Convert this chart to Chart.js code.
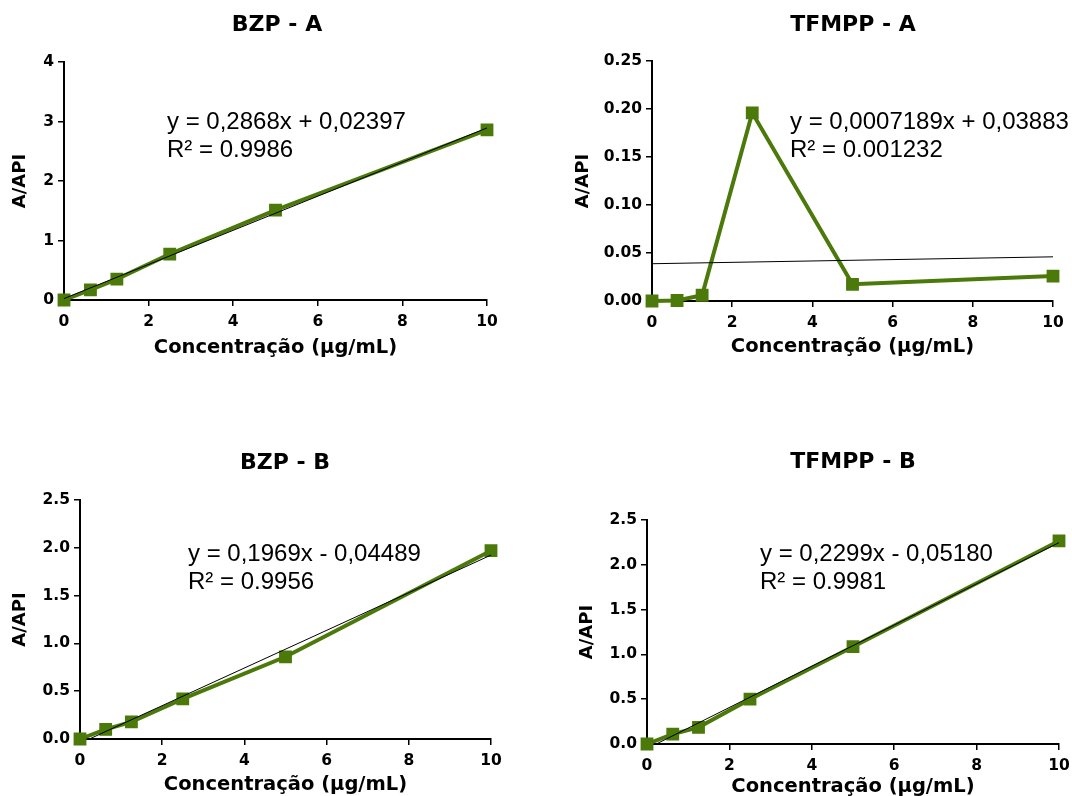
<!DOCTYPE html>
<html>
<head>
<meta charset="utf-8">
<script src="https://cdn.jsdelivr.net/npm/chart.js@4.4.1/dist/chart.umd.min.js"></script>
<style>
  body { margin: 0; background: #fff; width: 1072px; height: 796px; overflow: hidden; position: relative; }
  canvas { position: absolute; }
</style>
</head>
<body>
<canvas id="c0" width="536" height="370" style="left:0;top:0"></canvas>
<canvas id="c1" width="536" height="370" style="left:536px;top:0"></canvas>
<canvas id="c2" width="536" height="400" style="left:0;top:400px"></canvas>
<canvas id="c3" width="536" height="400" style="left:536px;top:400px"></canvas>
<script>
// concentrations (µg/mL), same for every panel
const concentrations = [0, 0.625, 1.25, 2.5, 5, 10];

// A/API
const bzpA   = [0, 0.17, 0.35, 0.77, 1.51, 2.86];
const tfmppA = [0, 0.0005, 0.006, 0.196, 0.0174, 0.026];
const bzpB   = [0, 0.10, 0.18, 0.42, 0.86, 1.97];
const tfmppB = [0, 0.11, 0.186, 0.50, 1.086, 2.266];

const panelTitles = ['BZP - A', 'TFMPP - A', 'BZP - B', 'TFMPP - B'];
const panelValues = [bzpA, tfmppA, bzpB, tfmppB];

// linear fit shown on each panel
const fitSlopes     = [0.2868, 0.0007189, 0.1969, 0.2299];
const fitIntercepts = [0.02397, 0.03883, -0.04489, -0.05180];
const fitEquations  = ['y = 0,2868x + 0,02397', 'y = 0,0007189x + 0,03883', 'y = 0,1969x - 0,04489', 'y = 0,2299x - 0,05180'];
const fitR2         = ['R² = 0.9986', 'R² = 0.001232', 'R² = 0.9956', 'R² = 0.9981'];

// y axis ranges
const yMax   = [4, 0.25, 2.5, 2.5];
const yStep  = [1, 0.05, 0.5, 0.5];
const yDecim = [0, 2, 1, 1];

const xAxisTitle = 'Concentração (µg/mL)';
const yAxisTitle = 'A/API';

const green = '#4b790a';
const boldFont = '"DejaVu Sans", sans-serif';

// placement of each panel inside its canvas
const frames = [
  {left: 64,  top: 62,  right: 49, bottom: 300, h: 370, yTitleX: 20.5, xTitleY: 348,   titleX: 277, titleY: 25,   eqX: 167, eqY: 122},
  {left: 116, top: 61,  right: 19, bottom: 301, h: 370, yTitleX: 47.5, xTitleY: 346.5, titleX: 317, titleY: 25,   eqX: 254, eqY: 122},
  {left: 80,  top: 100, right: 45, bottom: 339, h: 400, yTitleX: 20.5, xTitleY: 385,   titleX: 285, titleY: 63,   eqX: 188, eqY: 154},
  {left: 111, top: 120, right: 13, bottom: 344, h: 400, yTitleX: 51.5, xTitleY: 386.5, titleX: 317, titleY: 62,   eqX: 224, eqY: 154},
];

const panelText = {
  id: 'panelText',
  afterDraw(chart, args, opts) {
    const ctx = chart.ctx;
    ctx.save();
    ctx.fillStyle = '#000';
    ctx.textBaseline = 'middle';
    ctx.textAlign = 'center';
    ctx.font = 'bold 22px ' + boldFont;
    ctx.fillText(opts.title, opts.titleX, opts.titleY);
    ctx.textAlign = 'left';
    ctx.font = '24px "Liberation Sans", Arial, sans-serif';
    ctx.fillText(opts.eq, opts.eqX, opts.eqY);
    ctx.fillText(opts.r2, opts.eqX, opts.eqY + 28);
    ctx.restore();
  }
};

function makePanel(i) {
  const f = frames[i];
  const m = fitSlopes[i], b = fitIntercepts[i];
  const x0 = Math.max(0, -b / m);
  const fitLine = [{x: x0, y: m * x0 + b}, {x: 10, y: m * 10 + b}];
  const points = concentrations.map((c, k) => ({x: c, y: panelValues[i][k]}));

  const yLabelLh = 18 * 1.2;
  const xLabelLh = 19.5 * 1.2;

  new Chart(document.getElementById('c' + i), {
    type: 'line',
    data: {
      datasets: [
        {
          data: fitLine,
          borderColor: '#000',
          borderWidth: 1,
          pointRadius: 0,
          order: 0,
          clip: false,
        },
        {
          data: points,
          borderColor: green,
          backgroundColor: green,
          borderWidth: 4,
          pointStyle: 'rect',
          pointRadius: 8,
          pointBorderWidth: 1.5,
          order: 1,
          clip: false,
        }
      ]
    },
    options: {
      responsive: false,
      animation: false,
      events: [],
      layout: { padding: { top: f.top, left: 0, right: f.right, bottom: 0 } },
      plugins: {
        legend: { display: false },
        tooltip: { enabled: false },
        panelText: {
          title: panelTitles[i], titleX: f.titleX, titleY: f.titleY,
          eq: fitEquations[i], r2: fitR2[i], eqX: f.eqX, eqY: f.eqY
        }
      },
      scales: {
        x: {
          type: 'linear',
          min: 0, max: 10,
          afterFit(scale) {
            scale.height = f.h - f.bottom;
            scale.paddingLeft = 0;
            scale.paddingRight = 0;
          },
          ticks: { stepSize: 2, color: '#000', padding: 7, font: { family: boldFont, weight: 'bold', size: 15.5 } },
          grid: { drawOnChartArea: false, color: '#000', lineWidth: 1.5, tickLength: 6 },
          border: { color: '#000', width: 2 },
          title: {
            display: true, text: xAxisTitle, color: '#000',
            font: { family: boldFont, weight: 'bold', size: 19.5 },
            padding: { top: 0, bottom: f.h - f.xTitleY - xLabelLh / 2 }
          }
        },
        y: {
          type: 'linear',
          min: 0, max: yMax[i],
          afterFit(scale) {
            scale.width = f.left;
            scale.paddingTop = 0;
            scale.paddingBottom = 0;
          },
          ticks: {
            stepSize: yStep[i], color: '#000', padding: 4,
            font: { family: boldFont, weight: 'bold', size: 15.5 },
            callback: v => v.toFixed(yDecim[i])
          },
          grid: { drawOnChartArea: false, color: '#000', lineWidth: 1.5, tickLength: 6 },
          border: { color: '#000', width: 2 },
          title: {
            display: true, text: yAxisTitle, color: '#000',
            font: { family: boldFont, weight: 'bold', size: 18 },
            padding: { top: f.yTitleX - yLabelLh / 2, bottom: 0 }
          }
        }
      }
    },
    plugins: [panelText]
  });
}

for (let i = 0; i < 4; i++) makePanel(i);
</script>
</body>
</html>
